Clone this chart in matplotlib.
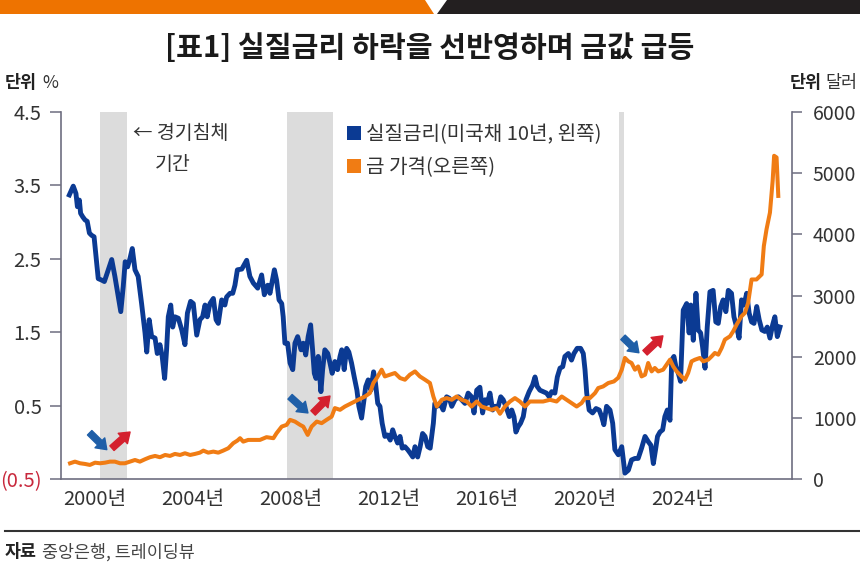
import matplotlib
matplotlib.use("Agg")
import matplotlib.pyplot as plt
from matplotlib.patches import Polygon, Patch
from matplotlib.lines import Line2D

plt.rcParams['font.family'] = ['Noto Sans CJK KR', 'DejaVu Sans']

# ---------------- data ----------------
rate_years = [
    1998.97, 1999.13, 1999.24, 1999.30, 1999.38, 1999.43, 1999.52, 1999.61, 1999.70, 1999.79,
    1999.88, 1999.98, 2000.09, 2000.15, 2000.29, 2000.40, 2000.56, 2000.70, 2000.83, 2000.97,
    2001.07, 2001.17, 2001.25, 2001.35, 2001.45, 2001.54, 2001.65, 2001.78, 2001.92, 2002.06,
    2002.13, 2002.23, 2002.33, 2002.47, 2002.56, 2002.67, 2002.76, 2002.86, 2002.94, 2003.01,
    2003.11, 2003.19, 2003.28, 2003.42, 2003.56, 2003.69, 2003.79, 2003.92, 2004.03, 2004.17,
    2004.30, 2004.41, 2004.51, 2004.60, 2004.71, 2004.85, 2004.96, 2005.05, 2005.19, 2005.32,
    2005.39, 2005.53, 2005.64, 2005.73, 2005.83, 2006.01, 2006.21, 2006.34, 2006.48, 2006.66,
    2006.82, 2006.93, 2007.07, 2007.16, 2007.34, 2007.43, 2007.53, 2007.64, 2007.70, 2007.77,
    2007.88, 2007.98, 2008.09, 2008.18, 2008.29, 2008.43, 2008.52, 2008.62, 2008.72, 2008.82,
    2008.90, 2008.97, 2009.04, 2009.13, 2009.24, 2009.31, 2009.40, 2009.52, 2009.61, 2009.70,
    2009.81, 2009.92, 2010.02, 2010.09, 2010.19, 2010.29, 2010.38, 2010.49, 2010.60, 2010.71,
    2010.79, 2010.90, 2010.98, 2011.07, 2011.17, 2011.28, 2011.39, 2011.47, 2011.56, 2011.65,
    2011.74, 2011.85, 2011.96, 2012.07, 2012.17, 2012.26, 2012.37, 2012.47, 2012.56, 2012.67,
    2012.78, 2012.89, 2012.99, 2013.08, 2013.19, 2013.29, 2013.39, 2013.49, 2013.60, 2013.70,
    2013.83, 2013.89, 2013.98, 2014.10, 2014.23, 2014.37, 2014.48, 2014.58, 2014.71, 2014.85,
    2014.98, 2015.12, 2015.25, 2015.39, 2015.49, 2015.60, 2015.73, 2015.84, 2015.94, 2016.03,
    2016.14, 2016.25, 2016.34, 2016.48, 2016.58, 2016.68, 2016.79, 2016.93, 2017.03, 2017.12,
    2017.20, 2017.29, 2017.39, 2017.50, 2017.61, 2017.74, 2017.88, 2017.98, 2018.07, 2018.18,
    2018.32, 2018.45, 2018.56, 2018.66, 2018.79, 2018.89, 2019.00, 2019.11, 2019.20, 2019.34,
    2019.47, 2019.57, 2019.70, 2019.84, 2019.95, 2020.02, 2020.09, 2020.19, 2020.33, 2020.47,
    2020.60, 2020.70, 2020.79, 2020.90, 2021.04, 2021.15, 2021.24, 2021.38, 2021.52, 2021.65,
    2021.79, 2021.92, 2022.06, 2022.19, 2022.33, 2022.47, 2022.60, 2022.71, 2022.81, 2022.90,
    2022.98, 2023.08, 2023.19, 2023.28, 2023.38, 2023.49, 2023.56, 2023.65, 2023.73, 2023.83,
    2023.92, 2024.03, 2024.17, 2024.27, 2024.34, 2024.44, 2024.55, 2024.64, 2024.74, 2024.82,
    2024.92, 2025.01, 2025.12, 2025.25, 2025.36, 2025.46, 2025.56, 2025.66, 2025.77, 2025.87,
    2026.00, 2026.10, 2026.21, 2026.31, 2026.41, 2026.51, 2026.62, 2026.72, 2026.82, 2026.92,
    2027.03, 2027.13, 2027.24, 2027.36, 2027.46, 2027.57, 2027.68, 2027.77, 2027.87, 2027.98,
]
rate_values = [
    3.37, 3.49, 3.39, 3.21, 3.30, 3.12, 3.07, 3.03, 3.01, 2.85,
    2.82, 2.80, 2.44, 2.23, 2.21, 2.19, 2.35, 2.49, 2.26, 1.98,
    1.78, 2.12, 2.46, 2.39, 2.51, 2.64, 2.35, 2.26, 1.89, 1.49,
    1.23, 1.67, 1.44, 1.42, 1.21, 1.33, 1.17, 0.87, 1.26, 1.71,
    1.87, 1.57, 1.71, 1.69, 1.53, 1.33, 1.76, 1.92, 1.89, 1.46,
    1.67, 1.71, 1.87, 1.71, 1.89, 1.96, 1.67, 1.62, 1.94, 1.87,
    1.98, 2.03, 2.03, 2.14, 2.35, 2.36, 2.48, 2.26, 2.17, 2.10,
    2.28, 2.01, 2.14, 2.03, 2.35, 2.21, 1.94, 1.89, 1.71, 1.35,
    1.35, 1.08, 0.99, 1.35, 1.44, 1.26, 1.35, 1.19, 1.44, 1.60,
    1.26, 0.94, 0.87, 1.17, 0.69, 0.99, 1.26, 1.21, 1.08, 0.94,
    1.10, 0.99, 1.17, 1.26, 0.99, 1.28, 1.23, 1.08, 0.89, 0.71,
    0.49, 0.33, 0.53, 0.76, 0.85, 0.71, 0.96, 0.80, 0.53, 0.49,
    0.26, 0.08, 0.10, 0.03, 0.17, 0.08, -0.01, 0.08, -0.08, -0.06,
    -0.10, -0.15, -0.20, -0.06, -0.20, -0.06, 0.12, 0.08, -0.06, -0.08,
    0.26, 0.53, 0.49, 0.53, 0.44, 0.62, 0.60, 0.49, 0.58, 0.62,
    0.58, 0.53, 0.67, 0.62, 0.40, 0.71, 0.75, 0.40, 0.58, 0.53,
    0.67, 0.44, 0.49, 0.49, 0.62, 0.58, 0.49, 0.35, 0.44, 0.35,
    0.14, 0.21, 0.26, 0.35, 0.58, 0.69, 0.78, 0.89, 0.76, 0.71,
    0.69, 0.67, 0.62, 0.69, 0.67, 0.89, 1.01, 1.03, 1.17, 1.21,
    1.12, 1.21, 1.28, 1.28, 1.21, 0.99, 0.67, 0.44, 0.40, 0.46,
    0.44, 0.35, 0.24, 0.49, 0.44, 0.26, -0.10, -0.17, -0.06, -0.42,
    -0.38, -0.24, -0.22, -0.22, -0.08, 0.08, 0.01, -0.04, -0.29, -0.10,
    0.08, 0.14, 0.17, 0.35, 0.44, 0.30, 1.12, 1.17, 1.03, 0.94,
    0.83, 1.80, 1.89, 1.49, 1.87, 1.39, 2.03, 1.53, 1.49, 1.30,
    1.01, 1.57, 2.05, 2.07, 1.64, 1.62, 1.85, 1.94, 1.78, 2.07,
    2.03, 1.71, 1.57, 1.42, 1.94, 1.87, 2.03, 1.76, 1.64, 1.62,
    1.85, 1.67, 1.53, 1.51, 1.57, 1.42, 1.60, 1.71, 1.44, 1.57,
]

gold_years = [
    1999.00, 1999.20, 1999.41, 1999.61, 1999.81, 2000.02, 2000.22, 2000.43, 2000.63, 2000.83,
    2001.04, 2001.24, 2001.45, 2001.65, 2001.85, 2002.06, 2002.26, 2002.47, 2002.67, 2002.88,
    2003.08, 2003.28, 2003.49, 2003.69, 2003.90, 2004.10, 2004.30, 2004.44, 2004.64, 2004.85,
    2005.05, 2005.25, 2005.46, 2005.66, 2005.83, 2005.94, 2006.07, 2006.27, 2006.48, 2006.75,
    2007.02, 2007.30, 2007.43, 2007.64, 2007.84, 2007.98, 2008.18, 2008.39, 2008.52, 2008.70,
    2008.86, 2009.07, 2009.27, 2009.47, 2009.68, 2009.81, 2010.02, 2010.22, 2010.49, 2010.76,
    2011.04, 2011.24, 2011.38, 2011.52, 2011.72, 2011.85, 2012.06, 2012.26, 2012.47, 2012.67,
    2012.87, 2013.08, 2013.28, 2013.49, 2013.69, 2013.83, 2013.97, 2014.17, 2014.37, 2014.58,
    2014.78, 2014.99, 2015.19, 2015.39, 2015.60, 2015.80, 2016.00, 2016.21, 2016.41, 2016.55,
    2016.75, 2016.96, 2017.16, 2017.36, 2017.57, 2017.77, 2018.05, 2018.31, 2018.59, 2018.86,
    2019.07, 2019.27, 2019.47, 2019.68, 2019.88, 2020.02, 2020.22, 2020.43, 2020.56, 2020.76,
    2020.97, 2021.20, 2021.38, 2021.52, 2021.65, 2021.79, 2021.92, 2022.06, 2022.19, 2022.33,
    2022.47, 2022.60, 2022.74, 2022.87, 2023.01, 2023.21, 2023.35, 2023.49, 2023.62, 2023.76,
    2023.96, 2024.10, 2024.23, 2024.37, 2024.51, 2024.71, 2024.85, 2025.05, 2025.19, 2025.32,
    2025.46, 2025.60, 2025.73, 2025.94, 2026.07, 2026.21, 2026.41, 2026.55, 2026.68, 2026.82,
    2027.02, 2027.23, 2027.32, 2027.43, 2027.57, 2027.68, 2027.74, 2027.84, 2027.91,
]
gold_values = [
    257, 284, 257, 246, 230, 267, 257, 267, 284, 284,
    257, 257, 284, 311, 284, 323, 356, 377, 356, 393,
    377, 410, 393, 421, 393, 410, 431, 464, 431, 448,
    431, 464, 503, 585, 628, 667, 611, 639, 639, 639,
    684, 667, 749, 857, 885, 967, 939, 885, 857, 721,
    857, 939, 913, 967, 1021, 1159, 1131, 1185, 1241, 1295,
    1349, 1405, 1569, 1651, 1787, 1677, 1705, 1733, 1651, 1623,
    1705, 1759, 1677, 1623, 1569, 1349, 1185, 1295, 1323, 1295,
    1349, 1295, 1267, 1185, 1267, 1185, 1159, 1131, 1159, 1066,
    1185, 1267, 1323, 1267, 1185, 1267, 1267, 1267, 1295, 1267,
    1349, 1295, 1241, 1185, 1241, 1323, 1323, 1405, 1487, 1513,
    1569, 1595, 1656, 1787, 1979, 1923, 1897, 1787, 1841, 1677,
    1705, 1897, 1759, 1815, 1759, 1787, 1869, 1951, 1841, 1759,
    1677, 1623, 1733, 1923, 1951, 1979, 1923, 1951, 2005, 2061,
    2033, 2143, 2279, 2333, 2415, 2525, 2661, 2716, 2880, 3262,
    3262, 3344, 3808, 4082, 4356, 4874, 5284, 5257, 4628,
]

recession_periods = [(2000.22, 2001.31), (2007.84, 2009.72), (2021.40, 2021.63)]

year_ticks = [2000, 2004, 2008, 2012, 2016, 2020, 2024]
year_labels = ['2000년', '2004년', '2008년', '2012년', '2016년', '2020년', '2024년']
rate_ticks = [4.5, 3.5, 2.5, 1.5, 0.5, -0.5]
rate_labels = ['4.5', '3.5', '2.5', '1.5', '0.5', '(0.5)']
gold_ticks = [0, 1000, 2000, 3000, 4000, 5000, 6000]
gold_labels = ['0', '1000', '2000', '3000', '4000', '5000', '6000']

# annotation arrows (start, end) in (year, %) units
rate_down_arrows = [((1999.80, 0.13), (2000.50, -0.10)),
                    ((2007.98, 0.62), (2008.71, 0.40)),
                    ((2021.57, 1.43), (2022.22, 1.22))]
gold_up_arrows = [((2000.71, -0.08), (2001.45, 0.14)),
                  ((2008.92, 0.40), (2009.61, 0.63)),
                  ((2022.47, 1.22), (2023.20, 1.45))]

title = '[표1] 실질금리 하락을 선반영하며 금값 급등'
rate_name = '실질금리(미국채 10년, 왼쪽)'
gold_name = '금 가격(오른쪽)'

# ---------------- style ----------------
BLUE = '#0b3a93'
ORANGE = '#f07c14'
BAND = '#dcdcdc'
AXIS = '#6e6e80'
TXT = '#333333'
RED = '#c8283c'
W, H = 860, 582

fig = plt.figure(figsize=(W / 100, H / 100), dpi=100)
fig.patch.set_facecolor('white')

# top banner
fig.add_artist(Polygon([[0, 1], [425 / W, 1], [434 / W, 1 - 14 / H], [0, 1 - 14 / H]],
                       closed=True, transform=fig.transFigure, color='#ee7300', lw=0))
fig.add_artist(Polygon([[447 / W, 1], [1, 1], [1, 1 - 14 / H], [437 / W, 1 - 14 / H]],
                       closed=True, transform=fig.transFigure, color='#231f20', lw=0))

fig.text(0.5, 1 - 48 / H, title, ha='center', va='center', fontsize=21,
         fontweight='bold', color='#1a1a1a')

fig.text(5 / W, 1 - 83 / H, '단위', ha='left', va='center', fontsize=12.5,
         fontweight='bold', color='#222222')
fig.text(42 / W, 1 - 83 / H, '%', ha='left', va='center', fontsize=12.5, color='#333333')
fig.text(822 / W, 1 - 83 / H, '단위', ha='right', va='center', fontsize=12.5,
         fontweight='bold', color='#222222')
fig.text(857 / W, 1 - 83 / H, '달러', ha='right', va='center', fontsize=12.5, color='#333333')

ax = fig.add_axes([61 / W, 1 - 479 / H, 731 / W, 367 / H])
ax2 = ax.twinx()

for a, b in recession_periods:
    ax.axvspan(a, b, color=BAND, lw=0, zorder=0)

ax.plot(rate_years, rate_values, color=BLUE, lw=3.5, zorder=3)
ax2.plot(gold_years, gold_values, color=ORANGE, lw=2.9, zorder=3)

ax.set_xlim(1998.63, 2028.47)
ax.set_ylim(-0.5, 4.5)
ax2.set_ylim(0, 6000)

ax.set_xticks(year_ticks)
ax.set_xticklabels(year_labels)
ax.set_yticks(rate_ticks)
ax.set_yticklabels(rate_labels)
for lab, t in zip(ax.get_yticklabels(), rate_ticks):
    lab.set_color(RED if t < 0 else TXT)
ax2.set_yticks(gold_ticks)
ax2.set_yticklabels(gold_labels)

ax.tick_params(axis='x', length=0, pad=7, labelsize=14.5, labelcolor=TXT)
ax.tick_params(axis='y', direction='out', length=8, width=1.1, color=AXIS, pad=6,
               labelsize=14.5)
ax2.tick_params(axis='y', direction='out', length=7, width=1.1, color=AXIS, pad=8,
                labelsize=14, labelcolor=TXT)

for s in ['top', 'right']:
    ax.spines[s].set_visible(False)
for s in ['top', 'left', 'bottom']:
    ax2.spines[s].set_visible(False)
for sp in [ax.spines['left'], ax.spines['bottom'], ax2.spines['right']]:
    sp.set_color(AXIS)
    sp.set_linewidth(1.2)

# arrows
for (s, e) in rate_down_arrows:
    ax.annotate('', xy=e, xytext=s, zorder=5,
                arrowprops=dict(arrowstyle='simple,head_width=1.0,head_length=0.7,tail_width=0.45',
                                color='#1f5fa8', shrinkA=0, shrinkB=0, mutation_scale=10))
for (s, e) in gold_up_arrows:
    ax.annotate('', xy=e, xytext=s, zorder=5,
                arrowprops=dict(arrowstyle='simple,head_width=1.0,head_length=0.7,tail_width=0.45',
                                color='#d4202e', shrinkA=0, shrinkB=0, mutation_scale=10))

# recession note
ax.text(2001.57, 4.21, '← 경기침체', ha='left', va='center', fontsize=14, color=TXT)
ax.text(2002.47, 3.78, '기간', ha='left', va='center', fontsize=14, color=TXT)

# legend
handles = [Patch(facecolor=BLUE, edgecolor='none'), Patch(facecolor=ORANGE, edgecolor='none')]
leg = ax2.legend(handles, [rate_name, gold_name], loc='upper left',
                 bbox_to_anchor=(0.391, 0.966), frameon=False, fontsize=14.5,
                 handlelength=0.7, handleheight=0.7, handletextpad=0.25,
                 labelspacing=0.58, borderpad=0, borderaxespad=0)
for t in leg.get_texts():
    t.set_color(TXT)

# bottom rule and source
fig.add_artist(Line2D([5 / W, 1], [1 - 531 / H, 1 - 531 / H], transform=fig.transFigure,
                      color='#333333', lw=1.5))
fig.text(5 / W, 1 - 552 / H, '자료', ha='left', va='center', fontsize=12.5,
         fontweight='bold', color='#222222')
fig.text(42 / W, 1 - 552 / H, '중앙은행, 트레이딩뷰', ha='left', va='center', fontsize=12.5,
         color='#444444')

fig.savefig('out.png', dpi=100)
